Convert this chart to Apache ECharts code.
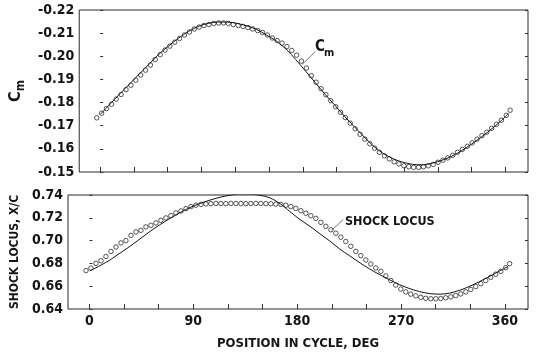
<!DOCTYPE html>
<html><head><meta charset="utf-8">
<script src="https://cdn.jsdelivr.net/npm/echarts@6/dist/echarts.min.js"></script>
<style>html,body{margin:0;padding:0;background:#fff}#c{width:537px;height:354px}</style>
</head><body><div id="c"></div>
<script>
// ---- data ----
const markerDeg = [
  -3.0, 1.3, 5.6, 10.0, 14.3, 18.6, 23.0, 27.3, 31.6, 36.0,
  40.3, 44.6, 48.9, 53.3, 57.6, 61.9, 66.3, 70.6, 74.9, 79.3,
  83.6, 87.9, 92.2, 96.6, 100.9, 105.2, 109.6, 113.9, 118.2, 122.6,
  126.9, 131.2, 135.5, 139.9, 144.2, 148.5, 152.9, 157.2, 161.5, 165.9,
  170.2, 174.5, 178.8, 183.2, 187.5, 191.8, 196.2, 200.5, 204.8, 209.2,
  213.5, 217.8, 222.1, 226.5, 230.8, 235.1, 239.5, 243.8, 248.1, 252.5,
  256.8, 261.1, 265.4, 269.8, 274.1, 278.4, 282.8, 287.1, 291.4, 295.8,
  300.1, 304.4, 308.7, 313.1, 317.4, 321.7, 326.1, 330.4, 334.7, 339.1,
  343.4, 347.7, 352.0, 356.4, 360.7, 364.1
];
const cmMarkers = [
  -0.1734, -0.1754, -0.1774, -0.1793, -0.1815, -0.1835, -0.1856, -0.1875, -0.1897, -0.1919,
  -0.1940, -0.1962, -0.1986, -0.2007, -0.2027, -0.2044, -0.2061, -0.2077, -0.2092, -0.2105,
  -0.2118, -0.2126, -0.2133, -0.2137, -0.2142, -0.2144, -0.2144, -0.2142, -0.2137, -0.2133,
  -0.2129, -0.2124, -0.2118, -0.2111, -0.2103, -0.2092, -0.2079, -0.2068, -0.2057, -0.2042,
  -0.2025, -0.2005, -0.1979, -0.1949, -0.1916, -0.1888, -0.1860, -0.1834, -0.1808, -0.1782,
  -0.1758, -0.1735, -0.1711, -0.1687, -0.1663, -0.1642, -0.1622, -0.1603, -0.1585, -0.1570,
  -0.1557, -0.1544, -0.1535, -0.1527, -0.1523, -0.1520, -0.1520, -0.1523, -0.1527, -0.1533,
  -0.1542, -0.1551, -0.1561, -0.1572, -0.1585, -0.1598, -0.1611, -0.1626, -0.1642, -0.1657,
  -0.1672, -0.1689, -0.1706, -0.1724, -0.1745, -0.1767
];
const shockMarkers = [
  0.6737, 0.6759, 0.6800, 0.6823, 0.6861, 0.6905, 0.6944, 0.6980, 0.7000, 0.7046,
  0.7076, 0.7090, 0.7120, 0.7134, 0.7155, 0.7178, 0.7199, 0.7219, 0.7243, 0.7260,
  0.7280, 0.7298, 0.7310, 0.7318, 0.7322, 0.7324, 0.7326, 0.7325, 0.7324, 0.7326,
  0.7325, 0.7325, 0.7324, 0.7325, 0.7326, 0.7325, 0.7324, 0.7323, 0.7320, 0.7318,
  0.7310, 0.7298, 0.7282, 0.7262, 0.7240, 0.7218, 0.7195, 0.7160, 0.7125, 0.7095,
  0.7065, 0.7030, 0.6992, 0.6950, 0.6905, 0.6868, 0.6830, 0.6795, 0.6760, 0.6730,
  0.6690, 0.6650, 0.6610, 0.6575, 0.6550, 0.6530, 0.6515, 0.6502, 0.6494, 0.6490,
  0.6490, 0.6492, 0.6498, 0.6507, 0.6518, 0.6532, 0.6550, 0.6572, 0.6597, 0.6622,
  0.6650, 0.6678, 0.6705, 0.6730, 0.6762, 0.6798
];
const lineDeg = [
  0.4, 9.1, 17.8, 26.4, 35.1, 43.8, 52.4, 61.1, 69.8, 78.4,
  87.1, 95.7, 104.4, 113.1, 121.7, 130.4, 139.1, 147.7, 156.4, 165.1,
  173.7, 182.4, 191.1, 199.7, 208.4, 217.0, 225.7, 234.4, 243.0, 251.7,
  260.3, 269.0, 277.7, 286.3, 295.0, 303.7, 312.3, 321.0, 329.7, 338.3,
  347.0, 355.6, 362.6
];
const cmLine = [
  -0.1750, -0.1795, -0.1839, -0.1882, -0.1925, -0.1968, -0.2010, -0.2046, -0.2079, -0.2107,
  -0.2129, -0.2142, -0.2148, -0.2148, -0.2142, -0.2131, -0.2116, -0.2092, -0.2066, -0.2031,
  -0.1986, -0.1936, -0.1886, -0.1836, -0.1789, -0.1741, -0.1696, -0.1652, -0.1611, -0.1579,
  -0.1557, -0.1542, -0.1533, -0.1531, -0.1538, -0.1551, -0.1568, -0.1592, -0.1620, -0.1650,
  -0.1683, -0.1719, -0.1752
];
const shockLine = [
  0.6735, 0.6780, 0.6830, 0.6890, 0.6950, 0.7015, 0.7080, 0.7140, 0.7195, 0.7245,
  0.7290, 0.7325, 0.7355, 0.7380, 0.7398, 0.7408, 0.7408, 0.7398, 0.7375, 0.7325,
  0.7255, 0.7185, 0.7125, 0.7060, 0.6995, 0.6925, 0.6865, 0.6805, 0.6750, 0.6700,
  0.6655, 0.6612, 0.6578, 0.6552, 0.6535, 0.6530, 0.6540, 0.6565, 0.6600, 0.6642,
  0.6688, 0.6735, 0.6772
];
const xTickValues = [0, 30, 60, 90, 120, 150, 180, 210, 240, 270, 300, 330, 360];
const xLabelValues = [0, 90, 180, 270, 360];
const cmLeader = [[191, -0.2020], [179.5, -0.1965]];
const shockLeader = [[219.9, 0.7184], [209.8, 0.7090]];

// ---- chart ----
const F = "'Liberation Sans Narrow','DejaVu Sans Condensed','Liberation Sans',sans-serif";
const INK = '#151515';
const zip = (xs, ys) => xs.map((x, i) => [x, ys[i]]);
const chart = echarts.init(document.getElementById('c'), null, {renderer: 'canvas'});

const frame = {show: true, borderColor: '#2a2a2a', borderWidth: 1, backgroundColor: 'transparent'};
const tickStyle = {color: '#333', width: 1};
function xAx(grid, labels) {
  return {
    type: 'value', gridIndex: grid, min: -18.6, max: 380,
    axisLine: {show: false}, splitLine: {show: false},
    axisTick: {show: true, inside: true, length: 5, customValues: xTickValues, lineStyle: tickStyle},
    axisLabel: labels ? {show: true, customValues: xLabelValues, margin: 5, color: INK,
      fontFamily: F, fontWeight: 'bold', fontSize: 14} : {show: false},
    name: labels ? 'POSITION IN CYCLE, DEG' : '', nameLocation: 'middle', nameGap: 28,
    nameTextStyle: {color: INK, fontFamily: F, fontWeight: 'bold', fontSize: 13}
  };
}
function yAx(grid, min, max, interval, inverse, right, name, gap, rich) {
  return {
    type: 'value', gridIndex: grid, min, max, interval, inverse, position: right ? 'right' : 'left',
    axisLine: {show: false}, splitLine: {show: false},
    axisTick: {show: true, inside: true, length: 3, lineStyle: tickStyle},
    axisLabel: right ? {show: false} : {show: true, margin: 5, color: INK, fontFamily: F,
      fontWeight: 'bold', fontSize: 14, formatter: v => v.toFixed(2)},
    name: right ? '' : name, nameLocation: 'middle', nameGap: gap, nameRotate: 90,
    nameTextStyle: {color: INK, fontFamily: F, fontWeight: 'bold', fontSize: 12, rich: rich || {}}
  };
}
const leaderStyle = {color: '#555', width: 0.8, type: 'solid'};
function leader(pts) {
  return {silent: true, symbol: ['none', 'none'], label: {show: false}, lineStyle: leaderStyle,
    data: [[{coord: pts[0]}, {coord: pts[1]}]], animation: false};
}
const markerStyle = {color: 'rgba(0,0,0,0)', borderColor: INK, borderWidth: 0.9};

chart.setOption({
  animation: false,
  backgroundColor: '#fff',
  grid: [
    Object.assign({left: 68, right: 9, top: 10, height: 162}, frame),
    Object.assign({left: 68, right: 9, top: 195, height: 114}, frame)
  ],
  xAxis: [xAx(0, false), xAx(1, true)],
  yAxis: [
    yAx(0, -0.22, -0.15, 0.01, true, false, '{c|C}{m|m}', 43,
      {c: {fontSize: 16, fontFamily: F, fontWeight: 'bold', color: INK, lineHeight: 22, verticalAlign: 'middle'},
       m: {fontSize: 12, fontFamily: F, fontWeight: 'bold', color: INK, lineHeight: 22, verticalAlign: 'bottom'}}),
    yAx(0, -0.22, -0.15, 0.01, true, true),
    yAx(1, 0.64, 0.74, 0.02, false, false, 'SHOCK LOCUS, X/C', 37),
    yAx(1, 0.64, 0.74, 0.02, false, true)
  ],
  series: [
    {type: 'line', xAxisIndex: 0, yAxisIndex: 0, data: zip(lineDeg, cmLine), showSymbol: false,
     smooth: 0.3, lineStyle: {color: INK, width: 1}, markLine: leader(cmLeader)},
    {type: 'scatter', xAxisIndex: 0, yAxisIndex: 0, data: zip(markerDeg, cmMarkers), symbol: 'circle',
     symbolSize: 4.5, itemStyle: markerStyle},
    {type: 'line', xAxisIndex: 1, yAxisIndex: 2, data: zip(lineDeg, shockLine), showSymbol: false,
     smooth: 0.3, lineStyle: {color: INK, width: 1}, markLine: leader(shockLeader)},
    {type: 'scatter', xAxisIndex: 1, yAxisIndex: 2, data: zip(markerDeg, shockMarkers), symbol: 'circle',
     symbolSize: 4.5, itemStyle: markerStyle}
  ],
  graphic: [
    {type: 'text', left: 315, top: 40, style: {text: 'C', font: "bold 15px " + F, fill: INK}},
    {type: 'text', left: 324, top: 48, style: {text: 'm', font: "bold 11px " + F, fill: INK}},
    {type: 'text', left: 345, top: 215, style: {text: 'SHOCK LOCUS', font: "bold 12.5px " + F, fill: INK}}
  ]
});
</script></body></html>
